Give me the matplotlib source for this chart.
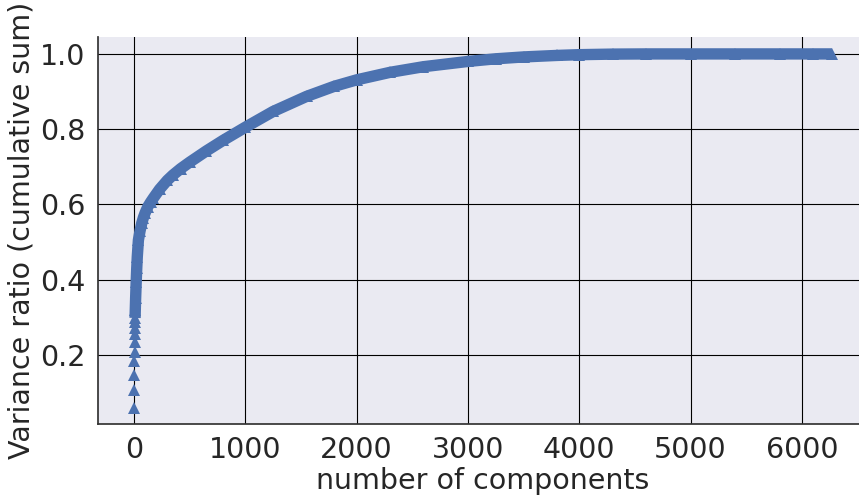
"""Cumulative explained variance ratio vs. number of PCA components."""
import matplotlib
matplotlib.use('Agg')
import matplotlib.pyplot as plt

# cumulative sum of explained variance ratio, read at selected component counts
n_components = [1, 2, 3, 4, 5, 6, 7, 8, 9, 10, 12, 15, 20, 25, 30, 40, 55, 70,
                85, 100, 125, 150, 175, 230, 300, 350, 420, 500, 650, 800,
                1000, 1250, 1550, 1800, 2000, 2300, 2600, 3000, 3250, 3500,
                3800, 4000, 4300, 4600, 5000, 5400, 5800, 6100, 6270]
cum_ratio = [0.059, 0.106, 0.147, 0.183, 0.208, 0.234, 0.256, 0.272, 0.286,
             0.298, 0.320, 0.350, 0.393, 0.430, 0.461, 0.505, 0.530, 0.550,
             0.565, 0.577, 0.594, 0.606, 0.617, 0.640, 0.664, 0.678, 0.695,
             0.712, 0.742, 0.770, 0.805, 0.847, 0.887, 0.914, 0.931, 0.951,
             0.966, 0.980, 0.987, 0.992, 0.996, 0.998, 0.9995, 1.000, 1.000,
             1.000, 1.000, 1.000, 1.000]

xticks = [0, 1000, 2000, 3000, 4000, 5000, 6000]
yticks = [0.2, 0.4, 0.6, 0.8, 1.0]

BLUE = '#4C72B0'
DARK = '#262626'

fig = plt.figure(figsize=(8.59, 5.0), dpi=100)
# axes runs slightly past the right edge of the canvas
ax = fig.add_axes([98 / 859, 76 / 500, 770 / 859, 387 / 500])
ax.set_facecolor('#EAEAF2')

# dense part of the curve: markers overlap into a solid band
dense = n_components.index(10)
ax.plot(n_components[dense:], cum_ratio[dense:], '-', color=BLUE, lw=8.2,
        solid_capstyle='butt', solid_joinstyle='round', zorder=3)
ax.plot(n_components, cum_ratio, '^', color=BLUE, markersize=8,
        markeredgewidth=0, zorder=2.9)

ax.set_xlim(-323, 6594)
ax.set_ylim(0.016, 1.045)
ax.set_xticks(xticks)
ax.set_yticks(yticks)
ax.grid(True, color='black', linewidth=0.8)
ax.set_axisbelow(True)

for side in ['top', 'right']:
    ax.spines[side].set_visible(False)
for side in ['left', 'bottom']:
    ax.spines[side].set_color('#333333')
    ax.spines[side].set_linewidth(1.25)

ax.tick_params(axis='both', length=0, labelsize=20.5, labelcolor=DARK, pad=9)
ax.set_xlabel('number of components', fontsize=20.5, color=DARK, labelpad=2)
ax.set_ylabel('Variance ratio (cumulative sum)', fontsize=20.5, color=DARK,
              labelpad=3)

fig.savefig('out.png', dpi=100)
plt.close()
